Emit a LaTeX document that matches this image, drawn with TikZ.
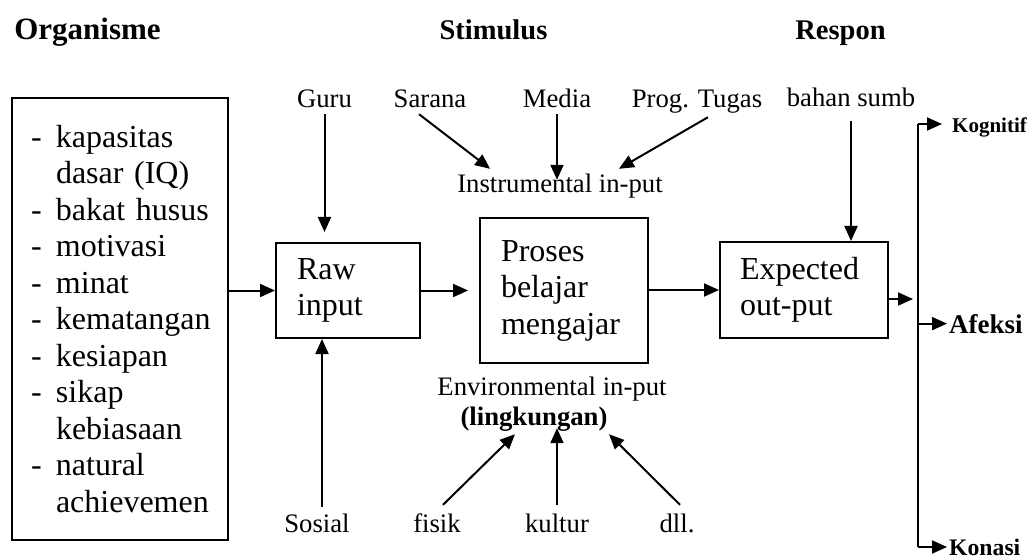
\documentclass[tikz,border=0pt]{standalone}
\usepackage{fontspec}
\setmainfont{Liberation Serif}
\usetikzlibrary{calc,arrows.meta}
\newcommand{\orgitem}[1]{\makebox[25pt][l]{-}#1}
\newcommand{\orgcont}[1]{\hspace*{25pt}#1}

\begin{document}
\begin{tikzpicture}[x=1pt,y=-1pt,
  box/.style={draw,line width=2pt,align=left,inner ysep=0pt,font=\fontsize{32}{36.5}\selectfont},
  lbl/.style={inner sep=0pt,anchor=base,text height=18pt,text depth=6pt,font=\fontsize{26.7}{30}\selectfont},
  head/.style={inner sep=0pt,anchor=base,font=\fontsize{28.5}{32}\selectfont\bfseries},
  resp/.style={inner sep=0pt,anchor=base west},
  arr/.style={line width=2pt,-{Triangle[length=15pt,width=13pt]}},
  line/.style={line width=2pt}]
  \useasboundingbox (0,0) rectangle (1029,559);
  % — column headers
  \node[head,font=\fontsize{31}{35}\selectfont\bfseries] (organisme) at (87.5,40) {Organisme};
  \node[head] (stimulus) at (493.5,40) {Stimulus};
  \node[head] (respon) at (840.5,40) {Respon};
  % — boxes
  \node[box,text width=178pt,inner xsep=19pt,minimum height=442pt] (organ) at (120,319) {%
    \orgitem{kapasitas}\\ \orgcont{dasar (IQ)}\\ \orgitem{bakat husus}\\ \orgitem{motivasi}\\
    \orgitem{minat}\\ \orgitem{kematangan}\\ \orgitem{kesiapan}\\ \orgitem{sikap}\\
    \orgcont{kebiasaan}\\ \orgitem{natural}\\ \orgcont{achievemen}};
  \node[box,text width=102pt,inner xsep=21pt,minimum height=95pt] (raw) at (348,290.5) {Raw\\input};
  \node[box,text width=126pt,inner xsep=21pt,minimum height=145pt] (proses) at (564,290.5) {Proses\\belajar\\mengajar};
  \node[box,text width=128pt,inner xsep=20pt,minimum height=96pt] (expect) at (804,290) {Expected\\out-put};
  % — top inputs
  \node[lbl] (guru) at (324.5,108) {Guru};
  \node[lbl] (sarana) at (430,108) {Sarana};
  \node[lbl] (media) at (557,108) {Media};
  \node[lbl] (prog) at (697,108) {Prog. Tugas};
  \node[lbl] (bahan) at (851,107) {bahan sumb};
  \node[lbl] (instr) at (560,193) {Instrumental in-put};
  % — bottom inputs
  \node[lbl] (envi) at (552,395) {Environmental in-put};
  \node[lbl] (lingk) at (534,425) {\bfseries (lingkungan)};
  \node[lbl] (sosial) at (317,532) {Sosial};
  \node[lbl] (fisik) at (437,532) {fisik};
  \node[lbl] (kultur) at (557,532) {kultur};
  \node[lbl] (dll) at (677,532) {dll.};
  % — arrows
  \draw[arr,shorten >=10pt] (guru.south) -- (guru.south |- raw.north);
  \draw[arr] ($(sarana.south)+(-11,0)$) -- ($(instr.north west)+(33,-6)$);
  \draw[arr,shorten >=-5pt] (media.south) -- (media.south |- instr.north);
  \draw[arr] ($(prog.south)+(11,3)$) -- ($(instr.north east)+(-44,-6)$);
  \draw[arr,shorten <=8pt] (bahan.south) -- (bahan.south |- expect.north);
  \draw[arr] (organ.east |- raw.west) -- (raw.west);
  \draw[arr,shorten >=11pt] (raw.east) -- (raw.east -| proses.west);
  \draw[arr] (proses.east |- expect.west) -- (expect.west);
  \coordinate (sosialtop) at ($(sosial.north)+(5,-7)$);
  \draw[arr] (sosialtop) -- (sosialtop |- raw.south);
  \draw[arr] ($(fisik.north)+(6,-9)$) -- ($(lingk.south)+(-19,3)$);
  \draw[arr,shorten <=9pt,shorten >=-3pt] (kultur.north) -- (kultur.north |- lingk.south);
  \draw[arr] ($(dll.north)+(3,-9)$) -- ($(lingk.south)+(75,3)$);
  % — response bracket
  \coordinate (brtop) at (918,124);
  \coordinate (brbot) at (918,547);
  \node[resp,font=\fontsize{21}{24}\selectfont\bfseries] (kog) at (952,133) {Kognitif};
  \node[resp,font=\fontsize{27}{30}\selectfont\bfseries] (afek) at (949,333) {Afeksi};
  \node[resp,font=\fontsize{23.7}{27}\selectfont\bfseries] (kon) at (949,555) {Konasi};
  \draw[line] (brtop) -- (brbot);
  \draw[arr,shorten >=5pt] ([yshift=-9pt]expect.east) -- ([yshift=-9pt]expect.east -| brtop);
  \draw[arr,shorten >=10pt] (brtop) -- (brtop -| kog.west);
  \draw[arr,shorten >=2pt] (brtop |- afek.west) -- (afek.west);
  \draw[arr,shorten >=2pt] (brbot) -- (brbot -| kon.west);
\end{tikzpicture}
\end{document}
